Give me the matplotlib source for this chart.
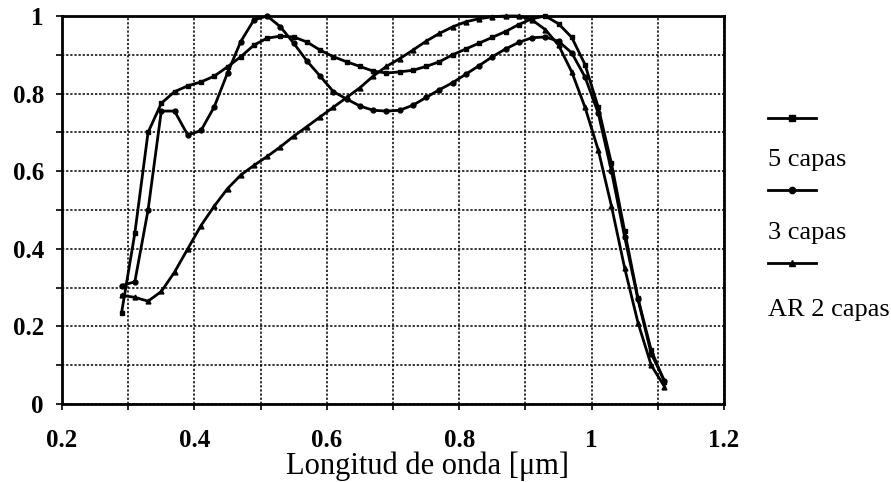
import matplotlib
matplotlib.use("Agg")
import matplotlib.pyplot as plt
from matplotlib.lines import Line2D
from matplotlib.ticker import MultipleLocator

wavelength = [0.29, 0.31, 0.33, 0.35, 0.37, 0.39, 0.41, 0.43, 0.45, 0.47,
              0.49, 0.51, 0.53, 0.55, 0.57, 0.59, 0.61, 0.63, 0.65, 0.67,
              0.69, 0.71, 0.73, 0.75, 0.77, 0.79, 0.81, 0.83, 0.85, 0.87,
              0.89, 0.91, 0.93, 0.95, 0.97, 0.99, 1.01, 1.03, 1.05, 1.07,
              1.09, 1.11]

capas5 = [0.235, 0.44, 0.70, 0.775, 0.805, 0.82, 0.83, 0.845, 0.869, 0.895,
          0.925, 0.943, 0.948, 0.946, 0.933, 0.912, 0.895, 0.882, 0.87, 0.858,
          0.853, 0.856, 0.86, 0.87, 0.882, 0.90, 0.915, 0.93, 0.945, 0.96,
          0.978, 0.993, 1.0, 0.98, 0.945, 0.875, 0.765, 0.62, 0.445, 0.273,
          0.139, 0.057]

capas3 = [0.305, 0.315, 0.50, 0.755, 0.755, 0.693, 0.705, 0.766, 0.853, 0.934,
          0.99, 1.0, 0.972, 0.93, 0.884, 0.845, 0.805, 0.786, 0.768, 0.757,
          0.755, 0.757, 0.77, 0.79, 0.81, 0.828, 0.85, 0.872, 0.895, 0.915,
          0.932, 0.944, 0.946, 0.935, 0.905, 0.843, 0.75, 0.60, 0.43, 0.27,
          0.13, 0.06]

ar2capas = [0.28, 0.275, 0.265, 0.29, 0.34, 0.40, 0.46, 0.51, 0.555, 0.59,
            0.615, 0.638, 0.663, 0.69, 0.715, 0.74, 0.765, 0.79, 0.815, 0.845,
            0.87, 0.89, 0.912, 0.935, 0.955, 0.972, 0.985, 0.993, 0.998, 1.0,
            1.0, 0.99, 0.965, 0.925, 0.856, 0.765, 0.655, 0.51, 0.35, 0.21,
            0.10, 0.045]

series_names = ["5 capas", "3 capas", "AR 2 capas"]
series_values = [capas5, capas3, ar2capas]
series_markers = ["s", "o", "^"]

xticks = [0.2, 0.4, 0.6, 0.8, 1.0, 1.2]
xticklabels = ["0.2", "0.4", "0.6", "0.8", "1", "1.2"]
yticks = [0, 0.2, 0.4, 0.6, 0.8, 1.0]
yticklabels = ["0", "0.2", "0.4", "0.6", "0.8", "1"]
xlabel = "Longitud de onda [\u03bcm]"

serif = ["Liberation Serif", "DejaVu Serif"]

fig = plt.figure(figsize=(8.91, 4.82), dpi=100)
ax = fig.add_axes([62/891, 1-404/482, (724-62)/891, (404-16)/482])

for vals, mk in zip(series_values, series_markers):
    ax.plot(wavelength, vals, color="black", lw=2.0, marker=mk, ms=3.5,
            mfc="black", mec="black", clip_on=False, zorder=3)

ax.set_xlim(0.2, 1.2)
ax.set_ylim(0, 1)
ax.set_xticks(xticks)
ax.set_xticklabels(xticklabels)
ax.set_yticks(yticks)
ax.set_yticklabels(yticklabels)
ax.xaxis.set_minor_locator(MultipleLocator(0.1))
ax.yaxis.set_minor_locator(MultipleLocator(0.1))
ax.grid(True, which="both", color="black", linestyle=(0, (1.5, 1.2)), lw=1.1)
ax.set_axisbelow(True)
ax.tick_params(which="both", direction="out", length=4, width=1.2, color="black")
for lab in ax.get_xticklabels() + ax.get_yticklabels():
    lab.set_family(serif)
    lab.set_fontsize(18)
    lab.set_fontweight("bold")
ax.tick_params(axis="x", pad=14)
ax.tick_params(axis="y", pad=9)
for sp in ax.spines.values():
    sp.set_linewidth(2)
    sp.set_color("black")

ax.set_xlabel(xlabel, family=serif, fontsize=22)
ax.xaxis.set_label_coords((428-62)/662, -(466-404)/388)
ax.xaxis.label.set_va("center")

# legend (line sample above its label)
leg_y_lines = [118, 190, 263]
leg_y_text = [160, 233, 310]
for name, mk, yl, yt in zip(series_names, series_markers, leg_y_lines, leg_y_text):
    fig.add_artist(Line2D([768/891, 816/891], [1-yl/482, 1-yl/482], color="black",
                          lw=2.0, transform=fig.transFigure))
    fig.add_artist(Line2D([792/891], [1-yl/482], color="black", marker=mk, ms=4.5,
                          transform=fig.transFigure))
    fig.text(768/891, 1-yt/482, name, family=serif, fontsize=19,
             ha="left", va="center")

fig.savefig("out.png", dpi=100)
